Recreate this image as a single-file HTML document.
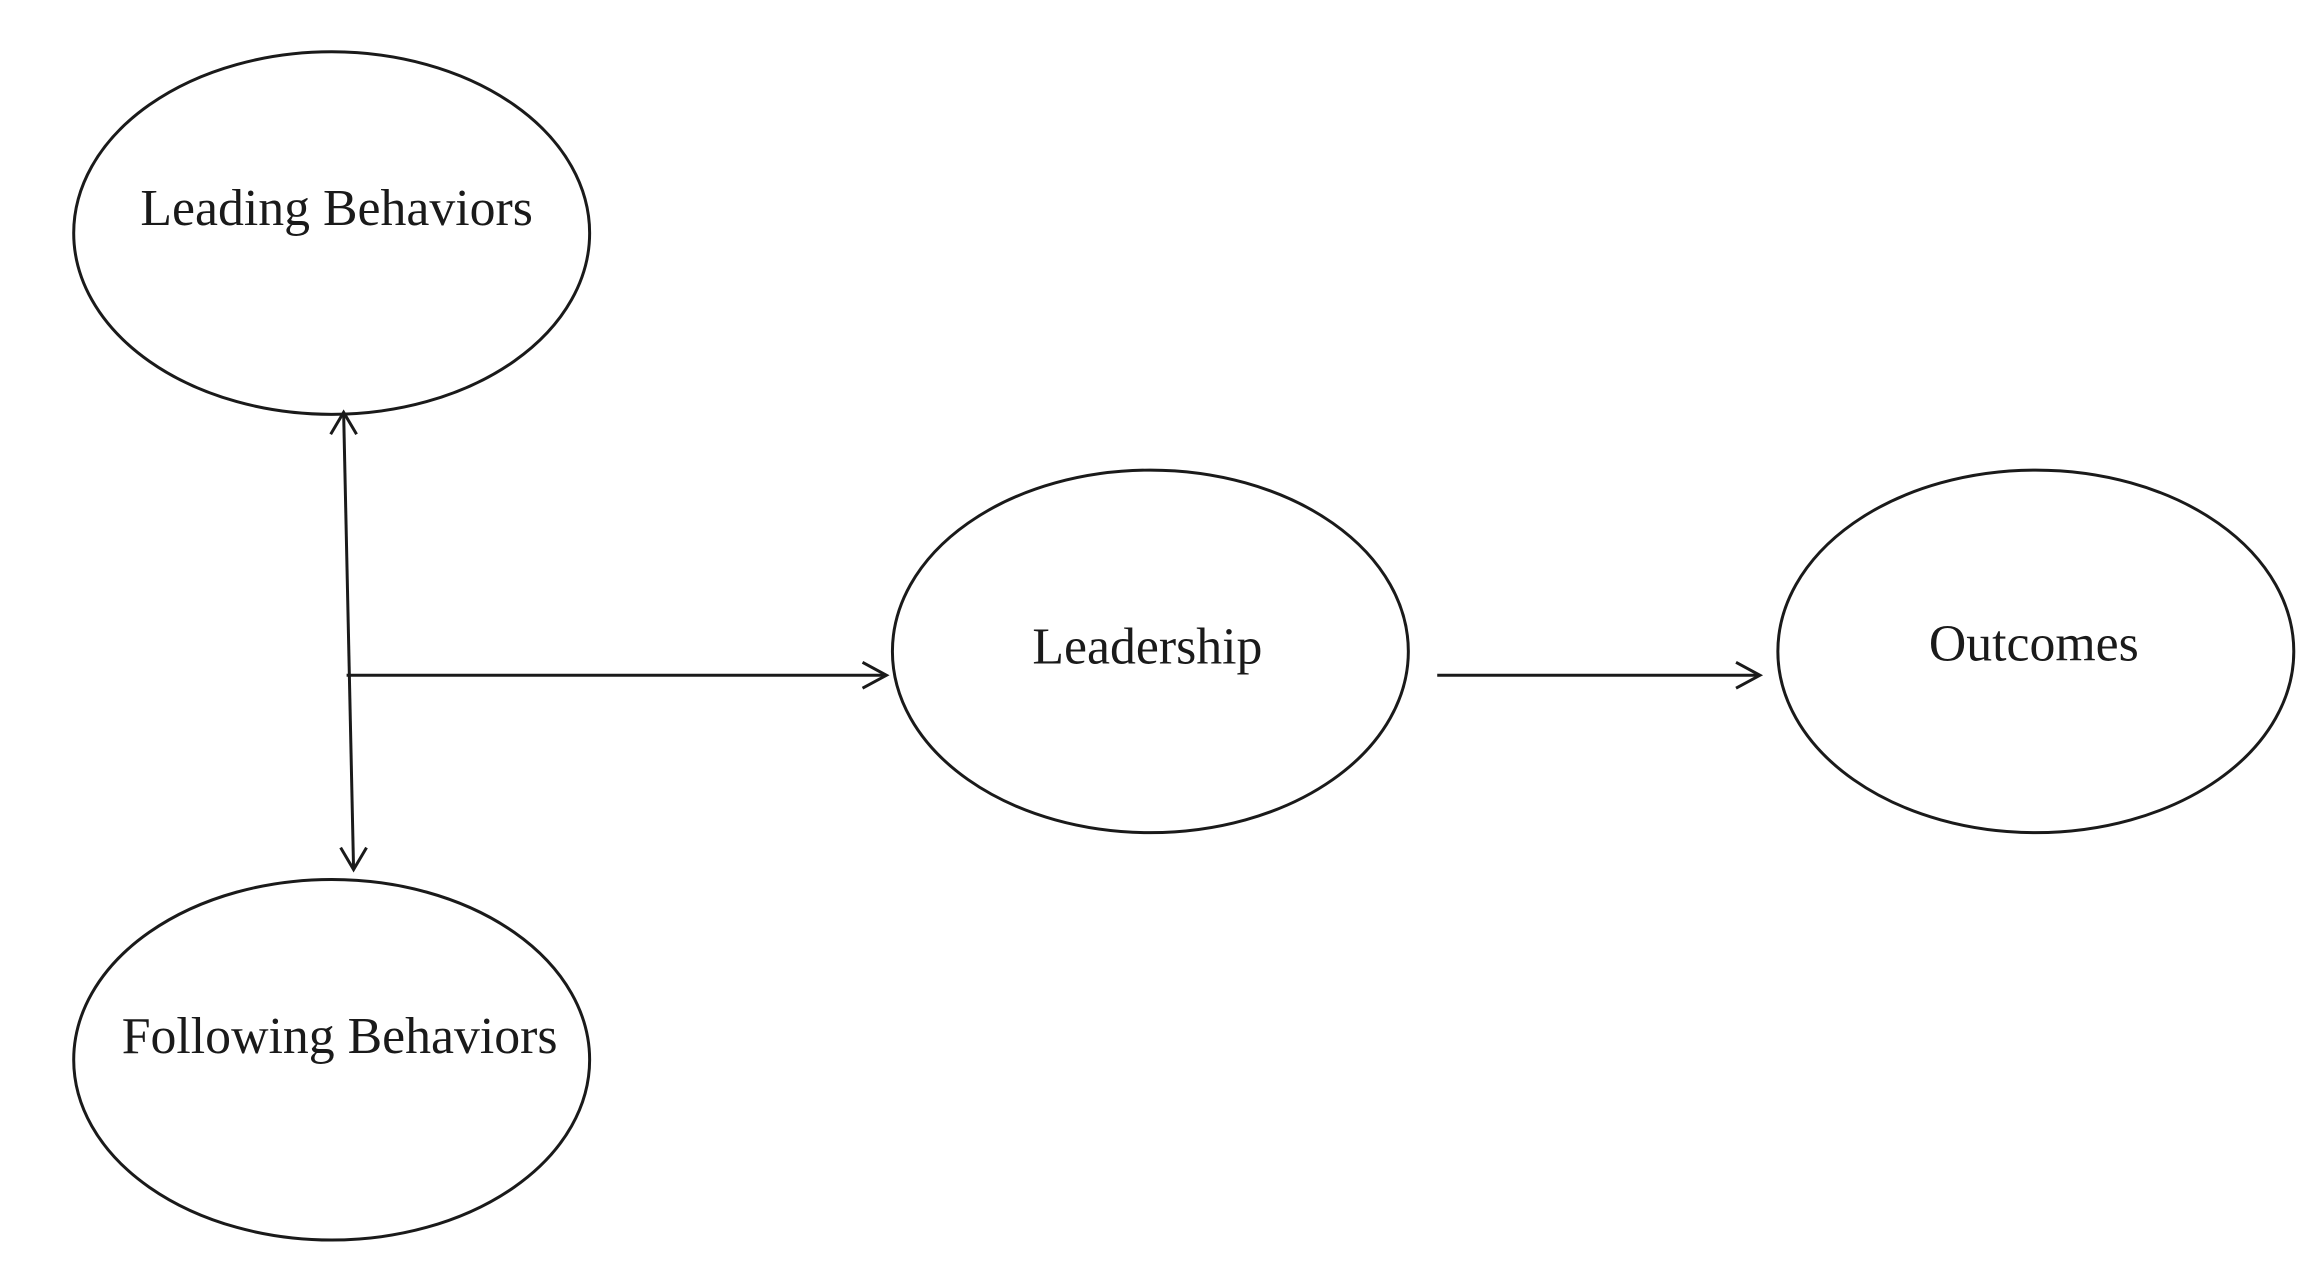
<!DOCTYPE html>
<html><head><style>html,body{margin:0;padding:0;background:#fff;}svg{display:block}</style></head>
<body>
<svg width="2310" height="1270" viewBox="0 0 2310 1270" xmlns="http://www.w3.org/2000/svg">
<g transform="scale(0.996)">
<g fill="none" stroke="#1a1a1a" stroke-width="3">
<ellipse cx="333" cy="234" rx="259" ry="182"/>
<ellipse cx="333" cy="1064" rx="259" ry="181"/>
<ellipse cx="1155" cy="654" rx="259" ry="182"/>
<ellipse cx="2044" cy="654" rx="259" ry="182"/>
<line x1="345" y1="414" x2="355" y2="873"/>
<polyline points="332,436 345,414 358,436"/>
<polyline points="342,851 355,873 368,851"/>
<line x1="348" y1="678" x2="890" y2="678"/>
<polyline points="866,665 890,678 866,691"/>
<line x1="1443" y1="678" x2="1767" y2="678"/>
<polyline points="1743,665 1767,678 1743,691"/>
</g>
<g font-family="Liberation Serif, serif" font-size="52" fill="#1a1a1a" text-anchor="middle">
<text x="338" y="226">Leading Behaviors</text>
<text x="341" y="1057">Following Behaviors</text>
<text x="1152" y="666">Leadership</text>
<text x="2042" y="663">Outcomes</text>
</g>
</g>
</svg>
</body></html>
